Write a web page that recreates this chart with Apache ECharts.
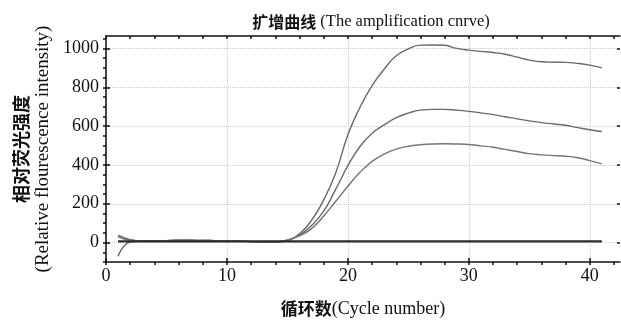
<!DOCTYPE html>
<html>
<head>
<meta charset="utf-8">
<script src="https://cdn.jsdelivr.net/npm/echarts@6/dist/echarts.min.js"></script>
<style>
  html, body { margin: 0; padding: 0; background: #fff; }
  #main { width: 621px; height: 322px; }
</style>
</head>
<body>
<div id="main"></div>
<script>
// cycle numbers
const cycles = [1, 2, 3, 4, 5, 6, 7, 8, 9, 10, 11, 12, 13, 14, 15, 16, 17, 18, 19, 20,
  21, 22, 23, 24, 25, 26, 27, 28, 29, 30, 31, 32, 33, 34, 35, 36, 37, 38, 39, 40, 41]
// 三条扩增曲线
const curveHigh = [-70, 3, 8, 8, 10, 12, 12, 11, 10, 9, 7, 5, 3, 3, 12, 45, 115, 220, 360, 555,
  697, 808, 893, 962, 998, 1017, 1018, 1016, 1000, 991, 985, 979, 970, 955, 940, 931, 929, 928, 923, 914, 900]
const curveMid = [38, 15, 8, 8, 10, 12, 12, 11, 10, 9, 7, 5, 3, 4, 12, 38, 88, 162, 275, 396,
  495, 563, 606, 643, 667, 682, 686, 686, 682, 676, 668, 659, 648, 637, 627, 618, 611, 604, 592, 581, 572]
const curveLow = [30, 12, 8, 8, 10, 12, 12, 11, 10, 9, 7, 5, 3, 4, 12, 35, 72, 137, 213, 290,
  362, 418, 456, 481, 496, 504, 508, 509, 508, 505, 498, 491, 480, 469, 458, 452, 448, 445, 437, 422, 405]
// 阴性对照 / baseline
const baseline = [6, 6, 6, 6, 6, 6, 6, 6, 6, 6, 6, 6, 6, 6, 6, 6, 6, 6, 6, 6,
  6, 6, 6, 6, 6, 6, 6, 6, 6, 6, 6, 6, 6, 6, 6, 6, 6, 6, 6, 6, 6]
// ticks
const xMinorTicks = [0, 2, 4, 6, 8, 10, 12, 14, 16, 18, 20, 22, 24, 26, 28, 30, 32, 34, 36, 38, 40, 42]
const xLabels = [0, 10, 20, 30, 40]
const yMinorTicks = [-100, -50, 0, 50, 100, 150, 200, 250, 300, 350, 400, 450, 500, 550, 600,
  650, 700, 750, 800, 850, 900, 950, 1000, 1050]
const yLabels = [0, 200, 400, 600, 800, 1000]

const serif = 'Liberation Serif'
const cjk = 'Noto Sans CJK SC'
const X_MIN = 0
const X_MAX = 42.5
const Y_MIN = -100
const Y_MAX = 1064

function pairs (ys) {
  return cycles.map((c, i) => [c, ys[i]])
}

const axisLineStyle = { color: '#111', width: 1.5 }
const gridLineStyle = { color: '#cacaca', width: 1, type: 'dotted' }

function curve (name, ys, color, width, z) {
  return {
    name: name,
    type: 'line',
    data: pairs(ys),
    xAxisIndex: 0,
    yAxisIndex: 0,
    showSymbol: false,
    smooth: 0.5,
    z: z,
    lineStyle: { color: color, width: width }
  }
}

const option = {
  backgroundColor: '#fff',
  animation: false,
  title: {
    text: '{b|扩增曲线}{n| (The amplification cnrve)}',
    left: 366,
    textAlign: 'center',
    top: 8,
    textStyle: {
      fontWeight: 'normal',
      rich: {
        b: { fontFamily: cjk, fontWeight: 'bold', fontSize: 16, color: '#111' },
        n: { fontFamily: serif, fontWeight: 'normal', fontSize: 16.5, color: '#111' }
      }
    }
  },
  grid: { left: 106, right: 1, top: 36, bottom: 60, outerBoundsMode: 'none' },
  xAxis: [
    {
      type: 'value',
      position: 'bottom',
      min: X_MIN,
      max: X_MAX,
      name: '{b|循环数}{n|(Cycle number)}',
      nameLocation: 'middle',
      nameGap: 38,
      nameTextStyle: {
        rich: {
          b: { fontFamily: cjk, fontWeight: 'bold', fontSize: 17, color: '#111' },
          n: { fontFamily: serif, fontSize: 18, color: '#111' }
        }
      },
      axisLine: { show: true, onZero: false, lineStyle: axisLineStyle },
      axisTick: { show: true, inside: false, length: 3, customValues: xMinorTicks, lineStyle: axisLineStyle },
      axisLabel: { customValues: xLabels, fontFamily: serif, fontSize: 18, color: '#111', margin: 5 },
      splitLine: { show: false }
    },
    {
      type: 'value',
      position: 'bottom',
      min: X_MIN,
      max: X_MAX,
      axisLine: { show: false, onZero: false },
      axisTick: { show: true, inside: true, length: 4, customValues: xLabels, lineStyle: axisLineStyle },
      axisLabel: { show: false },
      splitLine: { show: true, lineStyle: gridLineStyle }
    },
    {
      type: 'value',
      position: 'top',
      min: X_MIN,
      max: X_MAX,
      axisLine: { show: true, onZero: false, lineStyle: axisLineStyle },
      axisTick: { show: true, inside: true, length: 3, customValues: xMinorTicks, lineStyle: axisLineStyle },
      axisLabel: { show: false },
      splitLine: { show: false }
    }
  ],
  yAxis: [
    {
      type: 'value',
      position: 'left',
      min: Y_MIN,
      max: Y_MAX,
      name: '{b|相对荧光强度}\n{n|(Relative flourescence intensity)}',
      nameLocation: 'middle',
      nameRotate: 90,
      nameGap: 52,
      nameTextStyle: {
        align: 'center',
        rich: {
          b: { fontFamily: cjk, fontWeight: 'bold', fontSize: 18, color: '#111', lineHeight: 21, align: 'center' },
          n: { fontFamily: serif, fontSize: 19, color: '#111', lineHeight: 21, align: 'center' }
        }
      },
      axisLine: { show: true, onZero: false, lineStyle: axisLineStyle },
      axisTick: { show: true, inside: false, length: 3, customValues: yMinorTicks, lineStyle: axisLineStyle },
      axisLabel: {
        customValues: yLabels,
        formatter: v => String(v),
        fontFamily: serif,
        fontSize: 18,
        color: '#111',
        margin: 7
      },
      splitLine: { show: false }
    },
    {
      type: 'value',
      position: 'left',
      min: Y_MIN,
      max: Y_MAX,
      axisLine: { show: false, onZero: false },
      axisTick: { show: true, inside: true, length: 4, customValues: yLabels, lineStyle: axisLineStyle },
      axisLabel: { show: false },
      splitLine: { show: true, lineStyle: gridLineStyle }
    },
    {
      type: 'value',
      position: 'right',
      min: Y_MIN,
      max: Y_MAX,
      axisLine: { show: false, onZero: false },
      axisTick: { show: true, inside: true, length: 3, customValues: yLabels, lineStyle: axisLineStyle },
      axisLabel: { show: false },
      splitLine: { show: false }
    }
  ],
  series: [
    curve('high', curveHigh, '#6a6a6a', 1.4, 2),
    curve('mid', curveMid, '#6a6a6a', 1.4, 2),
    curve('low', curveLow, '#757575', 1.4, 2),
    curve('baseline', baseline, '#2b2b2b', 2.4, 3)
  ]
}

const myChart = echarts.init(document.getElementById('main'), null, { renderer: 'canvas' })
myChart.setOption(option)
</script>
</body>
</html>
